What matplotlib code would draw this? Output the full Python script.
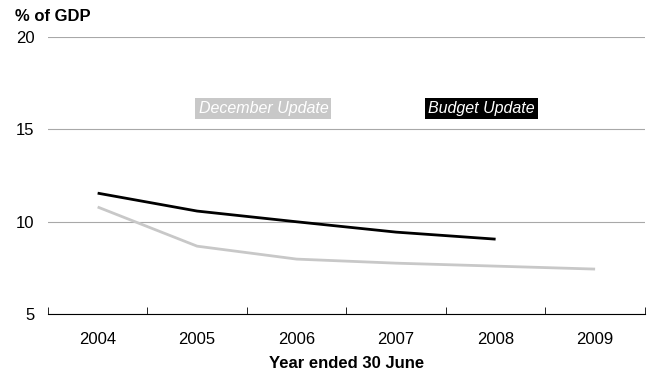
import numpy as np
import matplotlib.pyplot as plt

plt.rcParams['font.family'] = ['Liberation Sans', 'DejaVu Sans']

years = ['2004', '2005', '2006', '2007', '2008', '2009']
december = [10.8, 8.68, 7.98, 7.76, 7.6, 7.44]
budget = [11.55, 10.58, 10.0, 9.44, 9.06]

fig = plt.figure(figsize=(6.56, 3.74), dpi=100)
ax = fig.add_axes([0.073, 0.160, 0.910, 0.741])

x = np.arange(len(years))
ax.plot(x, december, color='#c8c8c8', lw=2, solid_capstyle='butt')
ax.plot(x[:len(budget)], budget, color='black', lw=2, solid_capstyle='butt')

ax.set_xlim(-0.5, len(years) - 0.5)
ax.set_ylim(5, 20)
ax.set_yticks([5, 10, 15, 20])
ax.grid(axis='y', color='#a8a8a8', lw=0.8)
ax.set_axisbelow(True)

ax.set_xticks(x)
ax.set_xticklabels(years, fontsize=12)
ax.set_xticks(np.arange(-0.5, len(years)), minor=True)
ax.tick_params(axis='x', which='major', length=0, pad=13)
ax.tick_params(axis='x', which='minor', direction='in', length=5, color='black')
ax.tick_params(axis='y', length=0, labelsize=12, pad=9.5)

for s in ['left', 'right', 'top']:
    ax.spines[s].set_visible(False)
ax.spines['bottom'].set_color('black')

ax.set_xlabel('Year ended 30 June', fontsize=12, fontweight='bold', labelpad=6)
fig.text(0.023, 0.955, '% of GDP', fontsize=12, fontweight='bold', va='center')

ax.text(1.666, 16.13, 'December Update', color='white', style='italic', fontsize=11.5,
        ha='center', va='center',
        bbox=dict(boxstyle='square,pad=0.2', fc='#c8c8c8', ec='none'))
ax.text(3.86, 16.13, 'Budget Update', color='white', style='italic', fontsize=11.5,
        ha='center', va='center',
        bbox=dict(boxstyle='square,pad=0.2', fc='black', ec='none'))

fig.savefig('out.png', dpi=100)
